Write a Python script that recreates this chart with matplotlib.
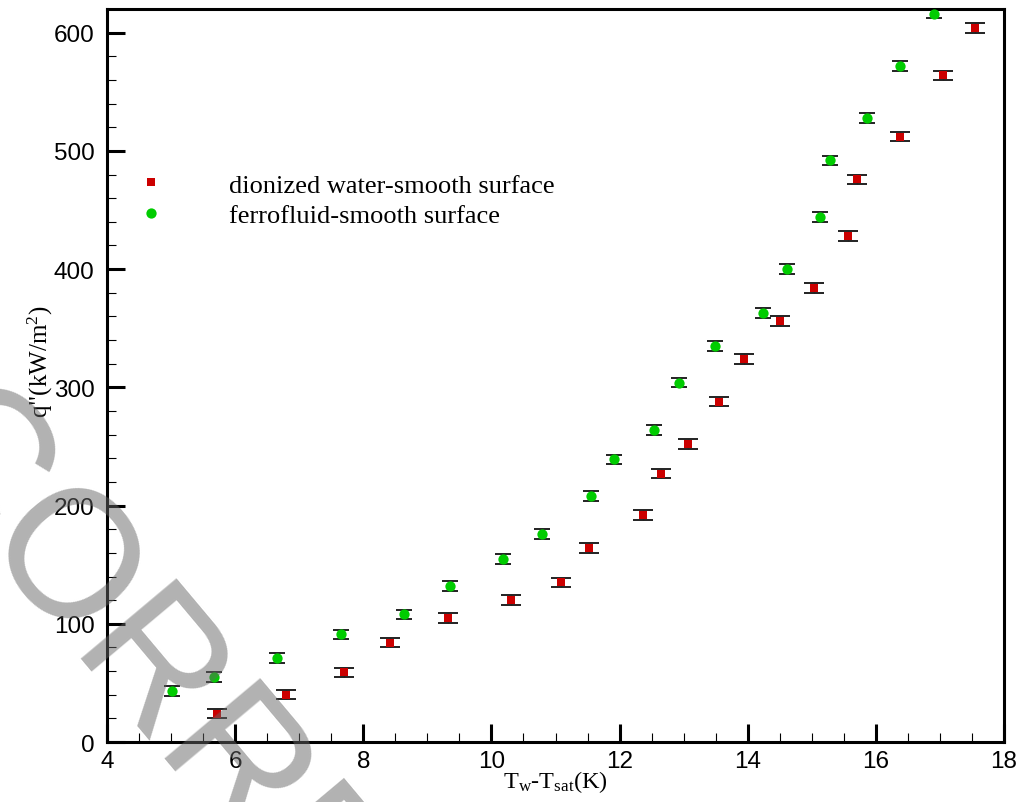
import numpy as np
import matplotlib
matplotlib.use("Agg")
import matplotlib.pyplot as plt
from matplotlib.ticker import MultipleLocator

# data
x_water = [5.72, 6.79, 7.70, 8.42, 9.32, 10.31, 11.09, 11.52, 12.37, 12.65,
           13.07, 13.55, 13.94, 14.50, 15.03, 15.57, 15.71, 16.38, 17.05, 17.55]
q_water = [24, 40, 59, 84, 105, 120, 135, 164, 192, 227,
           252, 288, 324, 356, 384, 428, 476, 512, 564, 604]

x_ferro = [5.01, 5.67, 6.65, 7.65, 8.64, 9.36, 10.18, 10.79, 11.55, 11.91,
           12.54, 12.93, 13.49, 14.24, 14.61, 15.13, 15.28, 15.86, 16.38, 16.91]
q_ferro = [43, 55, 71, 91, 108, 132, 155, 176, 208, 239,
           264, 304, 335, 363, 400, 444, 492, 528, 572, 616]

err = 4  # kW/m2, same for every point

plt.rcParams['mathtext.fontset'] = 'custom'
plt.rcParams['mathtext.rm'] = 'Liberation Serif'
plt.rcParams['mathtext.it'] = 'Liberation Serif:italic'

fig = plt.figure(figsize=(10.24, 8.03), dpi=100)
ax = fig.add_axes([0.1045, 0.0747, 0.876, 0.9128])

# error bars first, markers on top
ax.errorbar(x_water, q_water, yerr=err, fmt='none', ecolor='#222222',
            elinewidth=1.0, capsize=7.5, capthick=1.4, zorder=2)
ax.errorbar(x_ferro, q_ferro, yerr=err, fmt='none', ecolor='#222222',
            elinewidth=1.0, capsize=5.8, capthick=1.4, zorder=2)
ax.plot(x_water, q_water, 's', color='#cc0000', markersize=5.8, mew=0,
        label='dionized water-smooth surface', zorder=3)
ax.plot(x_ferro, q_ferro, 'o', color='#00cc00', markersize=7.4, mew=0,
        label='ferrofluid-smooth surface', zorder=3)

ax.set_xlim(4, 18)
ax.set_ylim(0, 620)
ax.xaxis.set_major_locator(MultipleLocator(2))
ax.xaxis.set_minor_locator(MultipleLocator(0.5))
ax.yaxis.set_major_locator(MultipleLocator(100))
ax.yaxis.set_minor_locator(MultipleLocator(20))

for s in ax.spines.values():
    s.set_linewidth(2.2)
ax.tick_params(which='major', direction='in', length=13, width=2.2,
               labelsize=17.5, pad=6)
ax.tick_params(which='minor', direction='in', length=6.5, width=0.8)
ax.tick_params(axis='y', which='major', pad=9)
for lab in ax.get_xticklabels() + ax.get_yticklabels():
    lab.set_fontfamily('Liberation Sans')

ax.set_xlabel(r'T$_{\rm w}$-T$_{\rm sat}$(K)', fontsize=17.5,
              fontfamily='Liberation Serif', labelpad=0)
ax.set_ylabel(r'q"(kW/m$^2$)', fontsize=18, fontfamily='Liberation Serif')
ax.yaxis.set_label_coords(-0.058, 0.52)
ax.xaxis.set_label_coords(0.5, -0.036)

leg = ax.legend(loc='upper left', bbox_to_anchor=(0.034, 0.776), frameon=False,
                handlelength=1.0, handletextpad=2.45, borderpad=0,
                borderaxespad=0, labelspacing=0.25,
                prop={'family': 'Liberation Serif', 'size': 19})

# watermark across the lower left corner
fig.text(-0.101, 0.452, 'UNCORRECTED PROOF'[2:], fontsize=130,
         fontfamily='Liberation Sans', color=(0.4, 0.4, 0.4), alpha=0.5,
         rotation=-50, rotation_mode='anchor', ha='left', va='baseline',
         zorder=10)

fig.savefig('out.png', dpi=100)
